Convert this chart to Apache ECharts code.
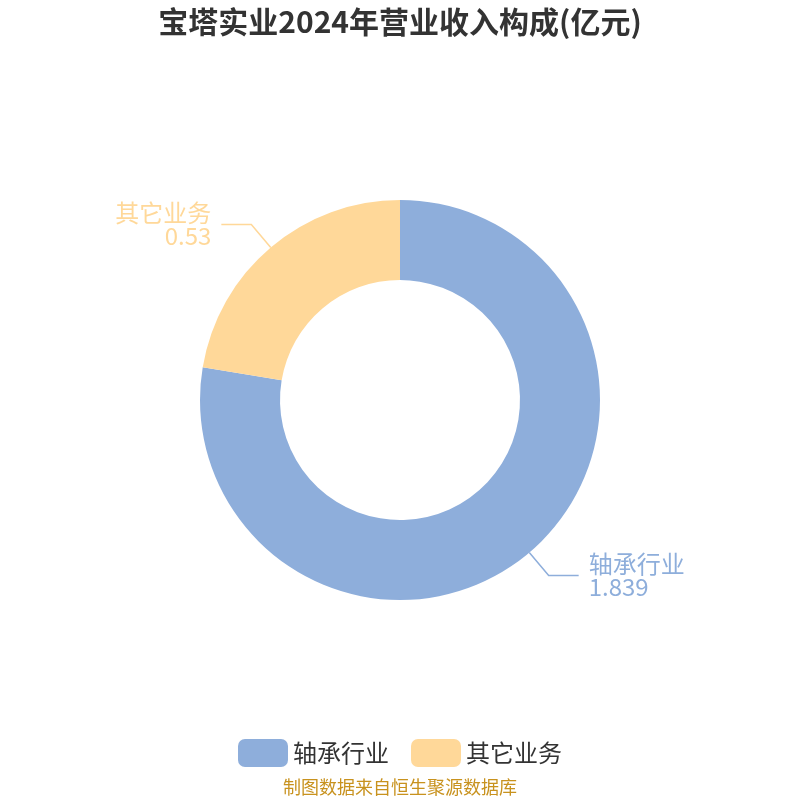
<!DOCTYPE html>
<html>
<head>
<meta charset="utf-8">
<script src="https://cdn.jsdelivr.net/npm/echarts@6/dist/echarts.min.js"></script>
<style>
  html, body { margin: 0; padding: 0; background: #fff; }
  #chart { width: 800px; height: 800px; }
</style>
</head>
<body>
<div id="chart"></div>
<script>
  // 数据
  var categories = ['轴承行业', '其它业务'];
  var values = [1.839, 0.53];
  var colors = ['#8eaedb', '#ffd899'];

  var pieData = categories.map(function (name, i) {
    return { name: name, value: values[i], itemStyle: { color: colors[i] }, label: { color: colors[i] } };
  });

  var chart = echarts.init(document.getElementById('chart'));
  chart.setOption({
    backgroundColor: '#fff',
    title: {
      text: '宝塔实业2024年营业收入构成(亿元)',
      left: 'center',
      top: 2,
      textStyle: { fontSize: 30, fontWeight: 'bold', color: '#333', fontFamily: 'Noto Sans CJK SC' }
    },
    legend: {
      data: categories,
      bottom: 28,
      left: 'center',
      icon: 'roundRect',
      itemWidth: 50,
      itemHeight: 28,
      itemGap: 22,
      textStyle: { fontSize: 24, color: '#333', fontFamily: 'Noto Sans CJK SC' }
    },
    graphic: [{
      type: 'text',
      left: 'center',
      top: 778,
      style: { text: '制图数据来自恒生聚源数据库', fontSize: 18, fill: '#c8921e', fontFamily: 'Noto Sans CJK SC' }
    }],
    series: [{
      type: 'pie',
      center: ['50%', '50%'],
      radius: [120, 200],
      startAngle: 90,
      clockwise: true,
      data: pieData,
      label: {
        formatter: '{b}\n{c}',
        fontSize: 24,
        lineHeight: 23,
        distanceToLabelLine: 10,
        fontFamily: 'Noto Sans CJK SC'
      },
      labelLine: { length: 30, length2: 30, lineStyle: { width: 1.5 } }
    }]
  });
</script>
</body>
</html>
